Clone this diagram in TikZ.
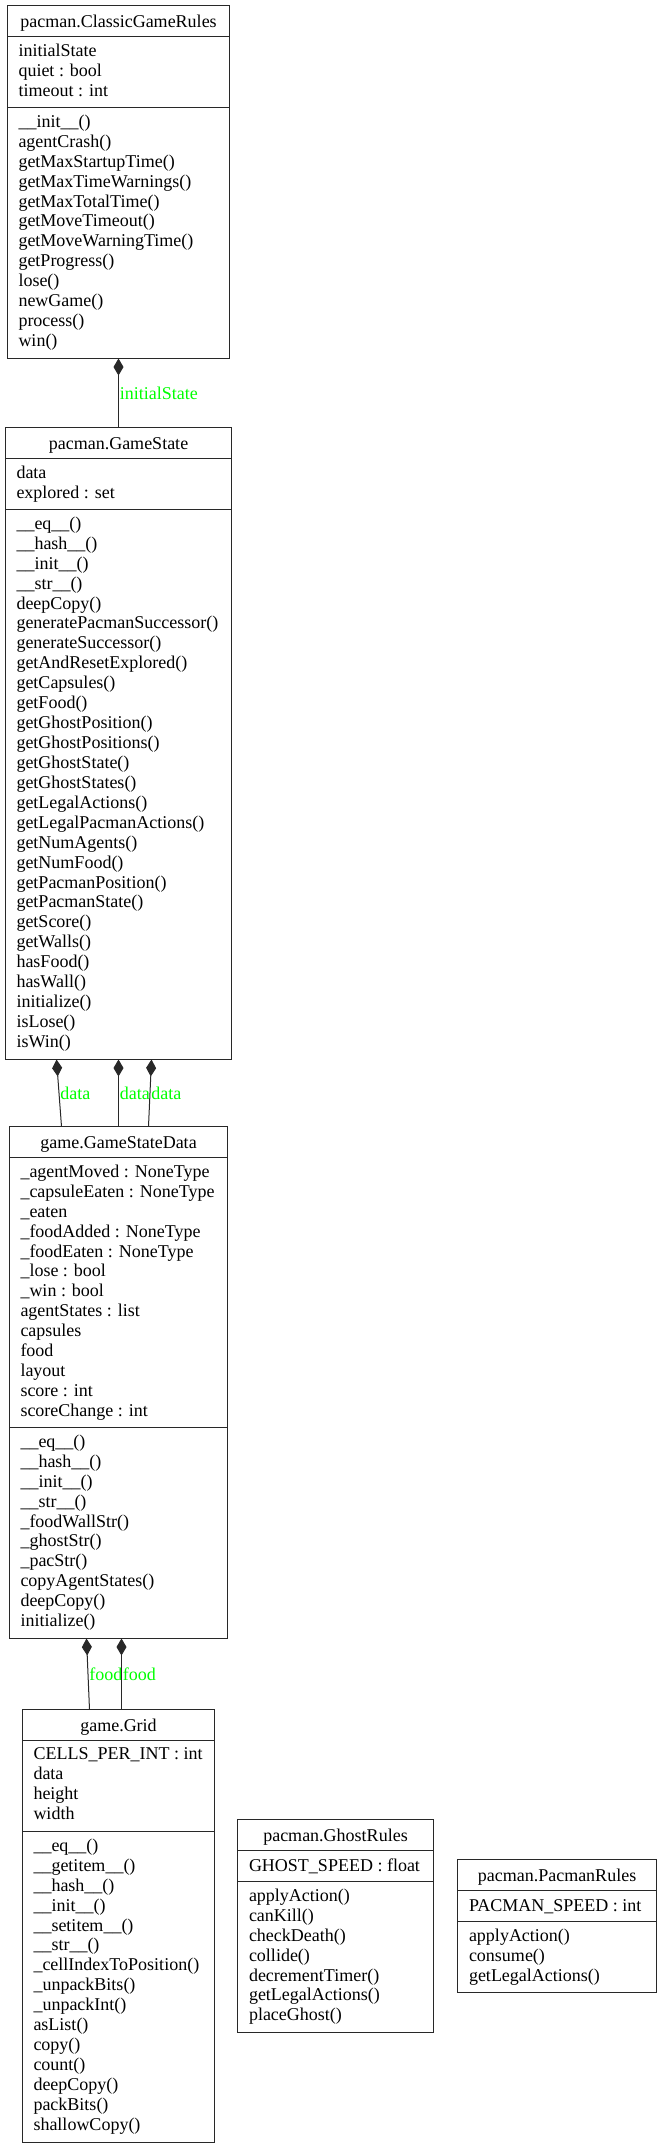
\documentclass[tikz,border=0pt]{standalone}
\usepackage{fontspec}
\setmainfont{Liberation Serif}
\usetikzlibrary{arrows.meta}

\definecolor{rolegreen}{RGB}{0,255,0}
\definecolor{edgegray}{RGB}{40,40,40}

\begin{document}
\begin{tikzpicture}[x=1pt,y=-1pt,line width=1pt,font=\fontsize{18}{19.93}\selectfont,
	classbox/.style={draw=edgegray,anchor=north west,inner sep=0pt,outer sep=0pt},
	classname/.style={anchor=base,inner sep=0pt},
	members/.style={anchor=north west,align=left,inner sep=0pt,execute at begin node=\strut},
	owns/.style={{Diamond[length=17pt,width=10pt]}-,draw=edgegray},
	role/.style={anchor=west,inner sep=0.8pt,text=rolegreen}]

	\useasboundingbox (0,0) rectangle (661,2148);

	% pacman.ClassicGameRules
	\node [classbox,minimum width=222pt,minimum height=353pt] (cgr) at (7.5,5.5) {};
	\draw [edgegray] (7.5,36.5) -- (229.5,36.5);
	\draw [edgegray] (7.5,107.5) -- (229.5,107.5);
	\node [classname] (cgr-name) at (118.5,27) {pacman.ClassicGameRules};
	\node [members] (cgr-attr) at (18,43.3) {initialState\\quiet : bool\\timeout : int};
	\node [members] (cgr-ops) at (18,114.3) {\_\_init\_\_()\\agentCrash()\\getMaxStartupTime()\\getMaxTimeWarnings()\\getMaxTotalTime()\\getMoveTimeout()\\getMoveWarningTime()\\getProgress()\\lose()\\newGame()\\process()\\win()};

	% pacman.GameState
	\node [classbox,minimum width=226pt,minimum height=632pt] (gamestate) at (5.5,427.5) {};
	\draw [edgegray] (5.5,458.5) -- (231.5,458.5);
	\draw [edgegray] (5.5,509.5) -- (231.5,509.5);
	\node [classname] (gamestate-name) at (118.5,449) {pacman.GameState};
	\node [members] (gamestate-attr) at (16,465.3) {data\\explored : set};
	\node [members] (gamestate-ops) at (16,516.3) {\_\_eq\_\_()\\\_\_hash\_\_()\\\_\_init\_\_()\\\_\_str\_\_()\\deepCopy()\\generatePacmanSuccessor()\\generateSuccessor()\\getAndResetExplored()\\getCapsules()\\getFood()\\getGhostPosition()\\getGhostPositions()\\getGhostState()\\getGhostStates()\\getLegalActions()\\getLegalPacmanActions()\\getNumAgents()\\getNumFood()\\getPacmanPosition()\\getPacmanState()\\getScore()\\getWalls()\\hasFood()\\hasWall()\\initialize()\\isLose()\\isWin()};

	% game.GameStateData
	\node [classbox,minimum width=218pt,minimum height=512pt] (gsdata) at (9.5,1126.5) {};
	\draw [edgegray] (9.5,1157.5) -- (227.5,1157.5);
	\draw [edgegray] (9.5,1427.5) -- (227.5,1427.5);
	\node [classname] (gsdata-name) at (118.5,1148) {game.GameStateData};
	\node [members] (gsdata-attr) at (20,1164.3) {\_agentMoved : NoneType\\\_capsuleEaten : NoneType\\\_eaten\\\_foodAdded : NoneType\\\_foodEaten : NoneType\\\_lose : bool\\\_win : bool\\agentStates : list\\capsules\\food\\layout\\score : int\\scoreChange : int};
	\node [members] (gsdata-ops) at (20,1434.3) {\_\_eq\_\_()\\\_\_hash\_\_()\\\_\_init\_\_()\\\_\_str\_\_()\\\_foodWallStr()\\\_ghostStr()\\\_pacStr()\\copyAgentStates()\\deepCopy()\\initialize()};

	% game.Grid
	\node [classbox,minimum width=192pt,minimum height=433pt] (grid) at (22.5,1709.5) {};
	\draw [edgegray] (22.5,1740.5) -- (214.5,1740.5);
	\draw [edgegray] (22.5,1831.5) -- (214.5,1831.5);
	\node [classname] (grid-name) at (118.5,1731) {game.Grid};
	\node [members] (grid-attr) at (33,1747.3) {CELLS\_PER\_INT : int\\data\\height\\width};
	\node [members] (grid-ops) at (33,1838.3) {\_\_eq\_\_()\\\_\_getitem\_\_()\\\_\_hash\_\_()\\\_\_init\_\_()\\\_\_setitem\_\_()\\\_\_str\_\_()\\\_cellIndexToPosition()\\\_unpackBits()\\\_unpackInt()\\asList()\\copy()\\count()\\deepCopy()\\packBits()\\shallowCopy()};

	% pacman.GhostRules
	\node [classbox,minimum width=196pt,minimum height=213pt] (ghostrules) at (237.5,1819.5) {};
	\draw [edgegray] (237.5,1850.5) -- (433.5,1850.5);
	\draw [edgegray] (237.5,1881.5) -- (433.5,1881.5);
	\node [classname] (ghostrules-name) at (335.5,1841) {pacman.GhostRules};
	\node [members] (ghostrules-attr) at (248.5,1857.3) {GHOST\_SPEED : float};
	\node [members] (ghostrules-ops) at (248.5,1888.3) {applyAction()\\canKill()\\checkDeath()\\collide()\\decrementTimer()\\getLegalActions()\\placeGhost()};

	% pacman.PacmanRules
	\node [classbox,minimum width=199pt,minimum height=133pt] (pacmanrules) at (457.5,1859.5) {};
	\draw [edgegray] (457.5,1890.5) -- (656.5,1890.5);
	\draw [edgegray] (457.5,1921.5) -- (656.5,1921.5);
	\node [classname] (pacmanrules-name) at (557,1881) {pacman.PacmanRules};
	\node [members] (pacmanrules-attr) at (468.5,1897.3) {PACMAN\_SPEED : int};
	\node [members] (pacmanrules-ops) at (468.5,1928.3) {applyAction()\\consume()\\getLegalActions()};

	% compositions
	\draw [owns] (cgr.south) -- node [role] (lbl-initialstate) {initialState} (gamestate.north);

	\draw [owns] ([xshift=-62pt]gamestate.south) -- node [role] (lbl-data-a) {data} ([xshift=-57pt]gsdata.north);
	\draw [owns] (gamestate.south) -- node [role] (lbl-data-b) {data} (gsdata.north);
	\draw [owns] ([xshift=33pt]gamestate.south) -- node [role] (lbl-data-c) {data} ([xshift=30pt]gsdata.north);

	\draw [owns] ([xshift=-32pt]gsdata.south) -- node [role] (lbl-food-a) {food} ([xshift=-29pt]grid.north);
	\draw [owns] ([xshift=3pt]gsdata.south) -- node [role] (lbl-food-b) {food} ([xshift=3pt]grid.north);

\end{tikzpicture}
\end{document}
